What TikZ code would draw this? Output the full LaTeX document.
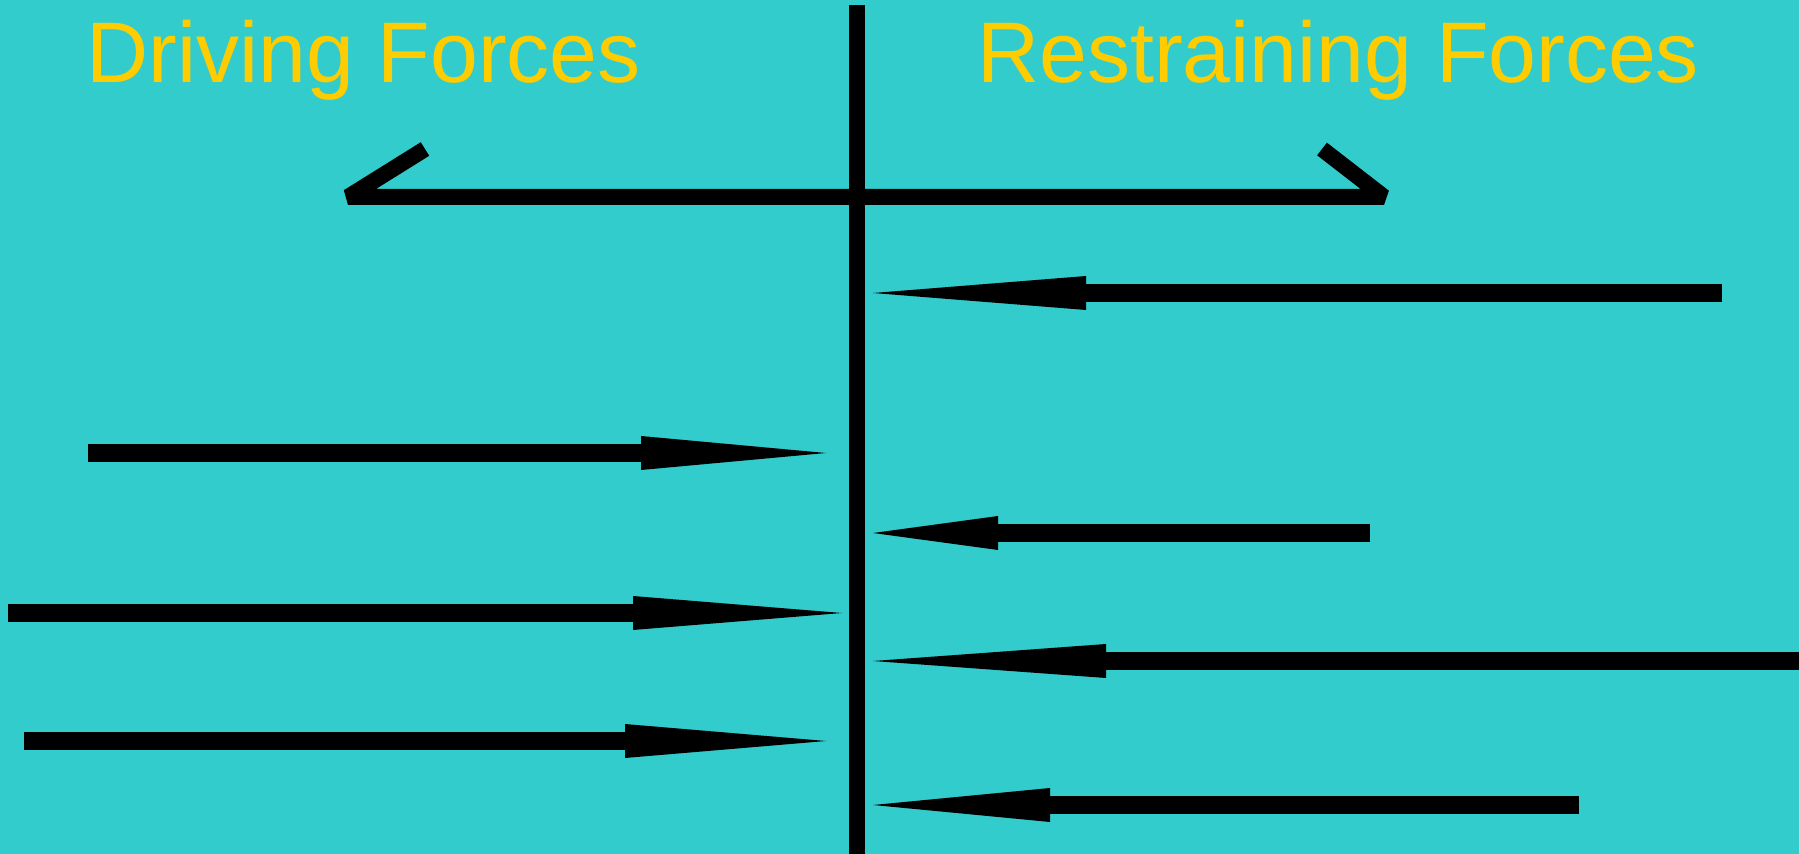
\documentclass[tikz,border=0pt]{standalone}
\usepackage{fontspec}
\setmainfont{Liberation Sans}
\usetikzlibrary{arrows.meta}
\definecolor{fieldbg}{HTML}{33CCCC}
\definecolor{headgold}{HTML}{FFCC00}
\tikzset{
  heading/.style = {anchor=base west, inner sep=0pt, text=headgold,
                    font=\fontsize{43}{50}\selectfont},
  divider/.style = {line width=8pt},
  force/.style   = {line width=9pt, -{Triangle[length=#1, width=17pt, line width=0pt]}},
}

\begin{document}
\begin{tikzpicture}[x=0.5pt, y=-0.5pt]
  \useasboundingbox (0,0) rectangle (1799,854);
  \fill[fieldbg] (0,0) rectangle (1799,854);

  % headings
  \node[heading] (drv) at (86,83) {Driving Forces};
  \node[heading] (rst) at (977,83) {Restraining Forces};

  % centre line and the bracket across it
  \coordinate (ctop) at (857,5);
  \coordinate (cbot) at (857,860);
  \draw[divider] (ctop) -- (cbot);
  \coordinate (lhook) at (425,149);
  \coordinate (lend) at (348,197);
  \coordinate (rend) at (1384,197);
  \coordinate (rhook) at (1322,149);
  \draw[divider, line join=bevel] (lhook) -- (lend) -- (rend) -- (rhook);

  % driving forces, pushing right
  \coordinate (d1a) at (88,453);   \coordinate (d1b) at (826,453);
  \coordinate (d2a) at (8,613);    \coordinate (d2b) at (842,613);
  \coordinate (d3a) at (24,741);   \coordinate (d3b) at (826,741);
  \draw[force=92.5pt] (d1a) -- (d1b);
  \draw[force=104.5pt] (d2a) -- (d2b);
  \draw[force=100.5pt] (d3a) -- (d3b);

  % restraining forces, pushing left
  \coordinate (r1a) at (1722,293); \coordinate (r1b) at (873,293);
  \coordinate (r2a) at (1370,533); \coordinate (r2b) at (873,533);
  \coordinate (r3a) at (1810,661); \coordinate (r3b) at (873,661);
  \coordinate (r4a) at (1579,805); \coordinate (r4b) at (873,805);
  \draw[force=106.5pt] (r1a) -- (r1b);
  \draw[force=62.5pt] (r2a) -- (r2b);
  \draw[force=116.5pt] (r3a) -- (r3b);
  \draw[force=88.5pt] (r4a) -- (r4b);
\end{tikzpicture}
\end{document}
